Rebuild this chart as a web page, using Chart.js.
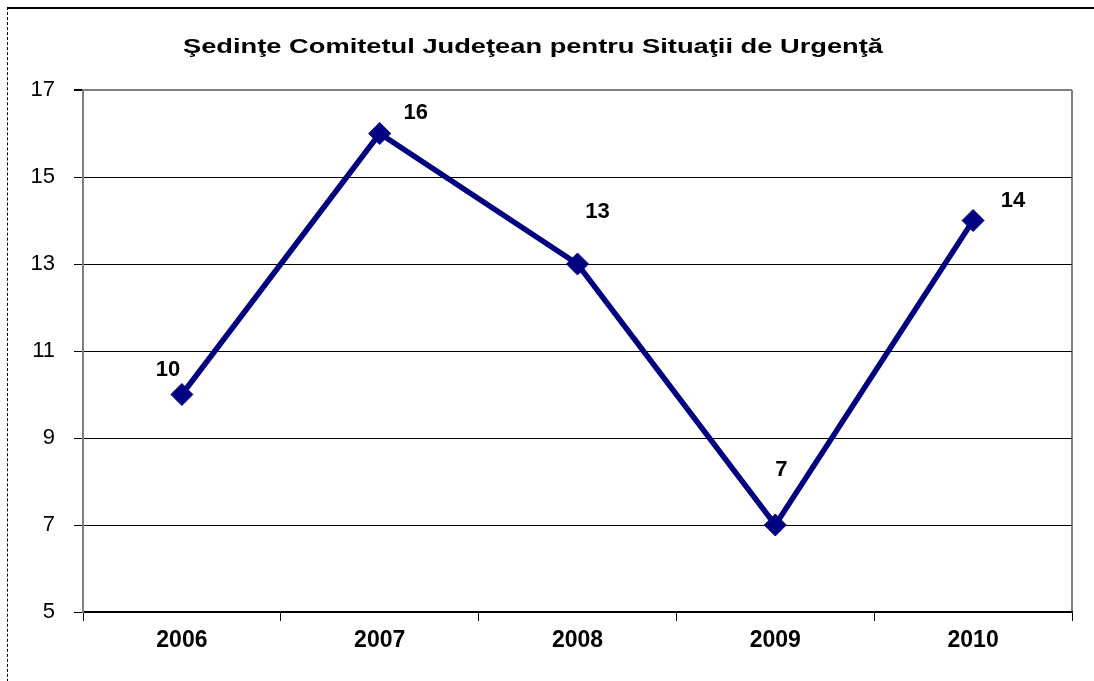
<!DOCTYPE html>
<html>
<head>
<meta charset="utf-8">
<script src="https://cdn.jsdelivr.net/npm/chart.js@4"></script>
<style>
    body { margin: 0; background: #fff; }
    #wrap { position: relative; width: 1094px; height: 681px; overflow: hidden; }
    #frame { position: absolute; left: 7px; top: 7px; width: 1100px; height: 700px; border-top: 2px solid #000; border-left: 1px dashed #000; box-sizing: border-box; }
    #c { position: absolute; left: 0; top: 0; }
</style>
</head>
<body>
<div id="wrap">
    <div id="frame"></div>
    <canvas id="c" width="1094" height="681"></canvas>
</div>
<script>

const chart_title = "Şedinţe Comitetul Judeţean pentru Situaţii de Urgenţă";
const years = ["2006", "2007", "2008", "2009", "2010"];
const sedinte = [10, 16, 13, 7, 14];
const y_min = 5;
const y_max = 17;
const y_step = 2;

// where each value label sits relative to its point (dx, dy)
const label_offsets = [[-14, -25], [36, -21], [20, -52], [6, -55], [40, -20]];

const lineColor = '#000080';

const framePlugin = {
    id: 'frame',
    beforeDraw(chart){
        const a = chart.chartArea;
        const ctx = chart.ctx;
        ctx.save();
        ctx.strokeStyle = '#808080';
        ctx.lineWidth = 2;
        ctx.beginPath();
        ctx.moveTo(a.right, a.top);
        ctx.lineTo(a.right, a.bottom);
        ctx.stroke();
        ctx.restore();
    }
};

const labelsPlugin = {
    id: 'valueLabels',
    afterDatasetsDraw(chart){
        const ctx = chart.ctx;
        const meta = chart.getDatasetMeta(0);
        ctx.save();
        ctx.font = 'bold 22px "Liberation Sans", Arial, sans-serif';
        ctx.fillStyle = '#000';
        ctx.textAlign = 'center';
        ctx.textBaseline = 'middle';
        meta.data.forEach((pt, i) => {
            const off = label_offsets[i];
            ctx.fillText(String(sedinte[i]), pt.x + off[0], pt.y + off[1]);
        });
        ctx.restore();
    }
};

const titlePlugin = {
    id: 'ownTitle',
    afterDraw(chart){
        const ctx = chart.ctx;
        ctx.save();
        ctx.font = 'bold 20px "Liberation Sans", Arial, sans-serif';
        ctx.fillStyle = '#000';
        ctx.textBaseline = 'middle';
        ctx.textAlign = 'center';
        // reference title is stretched to ~700px wide
        const w = ctx.measureText(chart_title).width;
        const sx = 700 / w;
        ctx.translate(533, 47);
        ctx.scale(sx, 1);
        ctx.fillText(chart_title, 0, 0);
        ctx.restore();
    }
};

new Chart(document.getElementById('c'), {
    type: 'line',
    data: {
        labels: years,
        datasets: [{
            data: sedinte,
            borderColor: lineColor,
            backgroundColor: lineColor,
            borderWidth: 5.5,
            tension: 0,
            pointStyle: 'rectRot',
            pointRadius: 11,
            pointBorderWidth: 1,
            pointBackgroundColor: lineColor,
            pointBorderColor: lineColor,
            fill: false
        }]
    },
    options: {
        responsive: false,
        devicePixelRatio: 1,
        animation: false,
        layout: { padding: { top: 90, right: 22, left: 0, bottom: 0 } },
        plugins: {
            legend: { display: false },
            title: { display: false },
            tooltip: { enabled: false }
        },
        scales: {
            x: {
                offset: true,
                grid: {
                    offset: true,
                    drawOnChartArea: false,
                    drawTicks: true,
                    tickLength: 9,
                    color: '#000'
                },
                border: { color: '#000', width: 1.5 },
                ticks: {
                    color: '#000',
                    padding: 6,
                    font: { family: '"Liberation Sans", Arial, sans-serif', size: 23, weight: 'bold' }
                },
                afterFit(scale){ scale.height = 69; }
            },
            y: {
                min: y_min,
                max: y_max,
                grid: {
                    color: (ctx) => (ctx.tick && ctx.tick.value === y_max) ? '#808080' : '#000',
                    lineWidth: (ctx) => (ctx.tick && ctx.tick.value === y_max) ? 2 : 1,
                    tickColor: '#000',
                    tickLength: 9
                },
                border: { color: '#808080', width: 2 },
                ticks: {
                    stepSize: y_step,
                    color: '#000',
                    padding: 19,
                    font: { family: '"Liberation Sans", Arial, sans-serif', size: 22 }
                },
                afterFit(scale){ scale.width = 83; }
            }
        }
    },
    plugins: [framePlugin, labelsPlugin, titlePlugin]
});

</script>
</body>
</html>
